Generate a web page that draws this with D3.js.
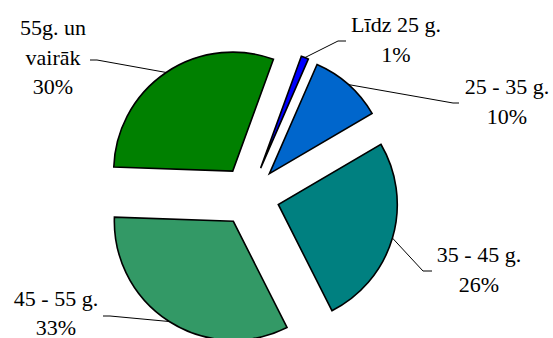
<!DOCTYPE html>
<html>
<head>
<meta charset="utf-8">
<script src="https://cdn.jsdelivr.net/npm/d3@7"></script>
</head>
<body style="margin:0">
<svg id="chart" width="553" height="338"></svg>
<script>
// Age groups and their shares (%)
const categories = ["Līdz 25 g.", "25 - 35 g.", "35 - 45 g.", "45 - 55 g.", "55g. un vairāk"];
const shares = [1, 10, 26, 33, 30];
// Label text broken into lines (last line is the percentage)
const nameLines = [["Līdz 25 g."], ["25 - 35 g."], ["35 - 45 g."], ["45 - 55 g."], ["55g. un", "vairāk"]];
const colors = ["#0000FF", "#0066CC", "#008080", "#339966", "#008000"];

// Layout
const cx = 249.5, cy = 196;
const radius = 119;
const explode = 30;
const startDeg = 20;
const fontSize = 22;
const lineGap = 29.5;

// Label placement: text centre x, baseline of first line, leader elbow and end
const labelLayout = [
  { x: 396, y: 32,  elbow: [338, 41],  end: [346, 41] },
  { x: 507, y: 94,  elbow: [453, 103], end: [459, 103] },
  { x: 479, y: 262, elbow: [423, 271], end: [432, 271] },
  { x: 56,  y: 305.5, elbow: [110, 316], end: [103, 316] },
  { x: 53,  y: 35,  elbow: [97, 60],   end: [90, 60] }
];

const data = categories.map((c, i) => ({ name: c, value: shares[i], color: colors[i], lines: nameLines[i], layout: labelLayout[i] }));

const svg = d3.select("#chart");

// Labels first, in the serif face, centred on their anchor point
const fmt = v => `${v}%`;
data.forEach(d => {
  const L = d.layout;
  const lines = d.lines.concat([fmt(d.value)]);
  lines.forEach((s, i) => {
    const t = svg.append("text")
      .attr("y", L.y + i * lineGap)
      .attr("font-size", fontSize)
      .style("font-family", '"Liberation Serif"')
      .text(s);
    const w = t.node().getComputedTextLength();
    t.attr("x", L.x - w / 2);
  });
});

const start = startDeg * Math.PI / 180;
const pie = d3.pie().sort(null).value(d => d.value).startAngle(start).endAngle(start + 2 * Math.PI);
const arc = d3.arc().innerRadius(0).outerRadius(radius);
const arcs = pie(data);

const offset = a => {
  const m = (a.startAngle + a.endAngle) / 2;
  return [explode * Math.sin(m), -explode * Math.cos(m)];
};

const g = svg.append("g").attr("transform", `translate(${cx},${cy})`);

g.selectAll("path.slice")
  .data(arcs)
  .join("path")
  .attr("class", "slice")
  .attr("transform", d => { const o = offset(d); return `translate(${o[0]},${o[1]})`; })
  .attr("d", arc)
  .attr("fill", d => d.data.color)
  .attr("stroke", "#000")
  .attr("stroke-width", 1.6)
  .attr("stroke-linejoin", "miter");

// Leader lines from the middle of each slice's rim to its label
arcs.forEach(d => {
  const o = offset(d);
  const m = (d.startAngle + d.endAngle) / 2;
  const sx = cx + o[0] + radius * Math.sin(m);
  const sy = cy + o[1] - radius * Math.cos(m);
  const L = d.data.layout;
  svg.append("polyline")
    .attr("points", [[sx, sy], L.elbow, L.end].map(p => p.join(",")).join(" "))
    .attr("fill", "none")
    .attr("stroke", "#000")
    .attr("stroke-width", 1);
});
</script>
</body>
</html>
